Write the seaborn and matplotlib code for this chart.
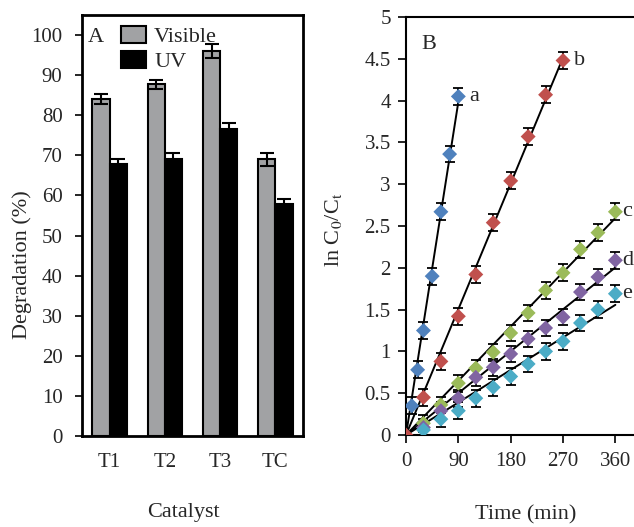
import matplotlib
matplotlib.use("Agg")
import matplotlib.pyplot as plt
import seaborn as sns
import numpy as np
import pandas as pd

# ---------------- data ----------------
catalysts = ["T1", "T2", "T3", "TC"]
visible = [84.1, 87.7, 96.0, 69.0]
visible_err = [1.2, 1.2, 1.8, 1.6]
uv = [67.9, 69.0, 76.5, 57.9]
uv_err = [1.2, 1.5, 1.6, 1.2]

series_names = ["a", "b", "c", "d", "e"]
series_colors = ["#4F81BD", "#C0504D", "#9BBB59", "#8064A2", "#4BACC6"]

t_a = [10, 20, 30, 45, 60, 75, 90]
y_a = [0.35, 0.78, 1.25, 1.90, 2.67, 3.36, 4.05]
e_a = [0.1, 0.1, 0.1, 0.1, 0.1, 0.1, 0.1]

t_b = [0, 30, 60, 90, 120, 150, 180, 210, 240, 270]
y_b = [0.0, 0.45, 0.88, 1.42, 1.92, 2.54, 3.04, 3.57, 4.07, 4.48]
e_b = [0.0, 0.1, 0.1, 0.1, 0.1, 0.1, 0.1, 0.1, 0.1, 0.1]

t_cde = [30, 60, 90, 120, 150, 180, 210, 240, 270, 300, 330, 360]
y_c = [0.14, 0.36, 0.62, 0.80, 0.99, 1.22, 1.46, 1.73, 1.94, 2.22, 2.42, 2.67]
y_d = [0.09, 0.29, 0.44, 0.69, 0.81, 0.97, 1.15, 1.28, 1.41, 1.71, 1.89, 2.09]
y_e = [0.06, 0.19, 0.29, 0.44, 0.57, 0.70, 0.85, 1.00, 1.12, 1.34, 1.50, 1.69]
e_cde = [0.1, 0.1, 0.1, 0.1, 0.1, 0.1, 0.1, 0.1, 0.1, 0.1, 0.1, 0.1]

x_ticks_B = [0, 90, 180, 270, 360]

# ---------------- style ----------------
sns.set_theme(style="white")
plt.rcParams["font.family"] = ["Liberation Serif", "DejaVu Serif"]
plt.rcParams["mathtext.fontset"] = "stix"

TICK_FS = 15
LAB_FS = 16

fig = plt.figure(figsize=(6.34, 5.27), dpi=100)
W, H = 634, 527
axA = fig.add_axes([82 / W, 1 - 436 / H, 221 / W, 421 / H])
axB = fig.add_axes([406 / W, 1 - 435 / H, 228 / W, 418 / H])

# ---------------- panel A ----------------
dfA = pd.DataFrame({
    "Catalyst": catalysts * 2,
    "Light": ["Visible"] * len(catalysts) + ["UV"] * len(catalysts),
    "Degradation": visible + uv,
})
sns.barplot(data=dfA, x="Catalyst", y="Degradation", hue="Light",
            palette={"Visible": "#A0A2A5", "UV": "#000000"},
            width=0.62, edgecolor="black", linewidth=1.5, errorbar=None,
            ax=axA)
for cont, errs in zip(axA.containers, [visible_err, uv_err]):
    xs = [p.get_x() + p.get_width() / 2 for p in cont]
    hs = [p.get_height() for p in cont]
    axA.errorbar(xs, hs, yerr=errs, fmt="none", ecolor="black",
                 elinewidth=1.5, capsize=5, capthick=1.5, zorder=5)

handles, labels = axA.get_legend_handles_labels()
axA.legend(handles, labels, loc="upper left", bbox_to_anchor=(0.175, 0.974),
           frameon=False, fontsize=LAB_FS, handlelength=1.15,
           handleheight=0.8, handletextpad=0.35, labelspacing=0.15,
           borderpad=0, borderaxespad=0)

axA.set_xlim(-0.5, 3.5)
axA.set_ylim(0, 105)
axA.set_yticks(range(0, 101, 10))
for s in axA.spines.values():
    s.set_visible(True)
    s.set_color("black")
    s.set_linewidth(2)
axA.tick_params(axis="y", direction="out", length=5, width=1.2, color="black",
                labelsize=TICK_FS, pad=9, left=True)
axA.tick_params(axis="x", length=0, labelsize=TICK_FS, pad=12.5)
axA.set_xlabel("Catalyst", fontsize=LAB_FS)
axA.xaxis.set_label_coords(0.458, -0.160)
axA.set_ylabel("Degradation (%)", fontsize=LAB_FS)
axA.yaxis.set_label_coords(-0.225, 0.406)
axA.text(0.027, 0.947, "A", transform=axA.transAxes, fontsize=LAB_FS,
         va="center", ha="left")

# ---------------- panel B ----------------
series = [
    (t_a, y_a, e_a),
    (t_b, y_b, e_b),
    (t_cde, y_c, e_cde),
    (t_cde, y_d, e_cde),
    (t_cde, y_e, e_cde),
]
label_offsets = [8, 8, 5, 5, 5]
rows = []
for name, (t, y, e) in zip(series_names, series):
    for ti, yi in zip(t, y):
        rows.append({"Time": ti, "lnC": yi, "Series": name})
dfB = pd.DataFrame(rows)

for name, (t, y, e), col, off in zip(series_names, series, series_colors, label_offsets):
    t_arr = np.array(t, dtype=float)
    y_arr = np.array(y, dtype=float)
    k = np.sum(t_arr * y_arr) / np.sum(t_arr ** 2)  # first-order fit through origin
    tl = np.array([0.0, t_arr.max()])
    axB.plot(tl, k * tl, color="black", lw=1.4, zorder=2)
    axB.errorbar(t_arr, y_arr, yerr=e, fmt="none", ecolor="black",
                 elinewidth=1.3, capsize=3.5, capthick=1.3, zorder=3)
    axB.annotate(name, (t_arr[-1], y_arr[-1]), xytext=(off, 0),
                 textcoords="offset points", fontsize=LAB_FS, va="center",
                 ha="left", annotation_clip=False)

sns.scatterplot(data=dfB, x="Time", y="lnC", hue="Series",
                hue_order=series_names,
                palette=dict(zip(series_names, series_colors)),
                marker="D", s=58, linewidth=0, legend=False, ax=axB, zorder=4)

axB.set_xlim(0, 392)
axB.set_ylim(0, 5)
axB.set_xticks(x_ticks_B)
axB.set_yticks(np.arange(0, 5.01, 0.5))
axB.set_yticklabels([f"{v:g}" for v in np.arange(0, 5.01, 0.5)])
for side in ["left", "bottom", "top"]:
    axB.spines[side].set_visible(True)
    axB.spines[side].set_color("black")
    axB.spines[side].set_linewidth(1.5)
axB.spines["right"].set_visible(False)
axB.tick_params(axis="both", direction="out", length=6, width=1.2,
                color="black", labelsize=TICK_FS, left=True, bottom=True)
axB.tick_params(axis="y", pad=5)
axB.tick_params(axis="x", pad=6)
axB.set_xlabel("Time (min)", fontsize=LAB_FS)
axB.xaxis.set_label_coords(0.526, -0.168)
axB.set_ylabel(r"ln C$_0$/C$_\mathrm{t}$", fontsize=LAB_FS)
axB.yaxis.set_label_coords(-0.27, 0.49)
axB.text(0.066, 0.935, "B", transform=axB.transAxes, fontsize=LAB_FS,
         va="center", ha="left")

fig.savefig("out.png", dpi=100)
